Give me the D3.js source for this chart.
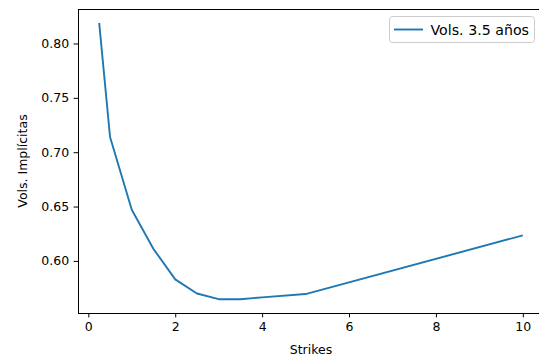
<!DOCTYPE html>
<html>
<head>
<meta charset="utf-8">
<script src="https://cdn.jsdelivr.net/npm/d3@7"></script>
<style>
  body { margin: 0; background: #fff; }
  svg { display: block; font-family: "DejaVu Sans", sans-serif; }
</style>
</head>
<body>
<script>
// strikes y vols implícitas
const strikes = [0.25, 0.5, 1, 1.5, 2, 2.5, 3, 3.5, 4, 5, 10];
const vols = [0.819, 0.714, 0.647, 0.611, 0.583, 0.570, 0.5648, 0.5648, 0.5665, 0.5695, 0.6235];
const xTicks = [0, 2, 4, 6, 8, 10];
const yTicks = [0.60, 0.65, 0.70, 0.75, 0.80];
const seriesName = 'Vols. 3.5 años';

const W = 539, H = 360;
const margin = {top: 9, right: -5, bottom: 47, left: 78};
const innerW = W - margin.left - margin.right;
const innerH = H - margin.top - margin.bottom;

const svg = d3.select('body').append('svg').attr('width', W).attr('height', H);
const g = svg.append('g').attr('transform', `translate(${margin.left},${margin.top})`);

// dominio con 5% de margen como matplotlib
const xExt = d3.extent(strikes), yExt = d3.extent(vols);
const xPad = (xExt[1] - xExt[0]) * 0.05, yPad = (yExt[1] - yExt[0]) * 0.05;
const x = d3.scaleLinear().domain([xExt[0] - xPad, xExt[1] + xPad]).range([0, innerW]);
const y = d3.scaleLinear().domain([yExt[0] - yPad, yExt[1] + yPad]).range([innerH, 0]);

const fs = 12.5;

// ejes
const xAxisG = g.append('g').attr('transform', `translate(0,${innerH})`)
  .call(d3.axisBottom(x).tickValues(xTicks).tickFormat(d3.format('d')).tickSizeOuter(0).tickSize(4.4).tickPadding(4.4));
const yAxisG = g.append('g')
  .call(d3.axisLeft(y).tickValues(yTicks).tickFormat(d3.format('.2f')).tickSizeOuter(0).tickSize(4.4).tickPadding(4.4));
[xAxisG, yAxisG].forEach(a => {
  a.select('.domain').remove();
  a.selectAll('.tick line').attr('stroke', '#000').attr('stroke-width', 1);
  a.selectAll('.tick text').attr('fill', '#000').style('font-size', fs + 'px').style('font-family', '"DejaVu Sans", sans-serif');
});

// spines
g.append('rect').attr('x', 0).attr('y', 0).attr('width', innerW).attr('height', innerH)
  .attr('fill', 'none').attr('stroke', '#000').attr('stroke-width', 1).attr('shape-rendering', 'crispEdges');

// línea
const line = d3.line().x((d, i) => x(strikes[i])).y(d => y(d));
g.append('path').datum(vols).attr('d', line)
  .attr('fill', 'none').attr('stroke', '#1f77b4').attr('stroke-width', 1.9)
  .attr('stroke-linejoin', 'round').attr('stroke-linecap', 'butt');

// títulos de ejes
svg.append('text').text('Strikes').attr('x', 311).attr('y', 354)
  .attr('text-anchor', 'middle').style('font-size', fs + 'px').attr('fill', '#000');
svg.append('text').text('Vols. Implícitas')
  .attr('transform', `translate(27,${margin.top + innerH / 2}) rotate(-90)`)
  .attr('text-anchor', 'middle').style('font-size', fs + 'px').attr('fill', '#000');

// leyenda
const leg = svg.append('g').attr('transform', 'translate(389.5,16.5)');
leg.append('rect').attr('width', 145).attr('height', 26).attr('rx', 3)
  .attr('fill', '#fff').attr('fill-opacity', 0.8).attr('stroke', '#ccc').attr('stroke-width', 1);
leg.append('line').attr('x1', 4.5).attr('x2', 33.5).attr('y1', 13).attr('y2', 13)
  .attr('stroke', '#1f77b4').attr('stroke-width', 1.9);
leg.append('text').text(seriesName).attr('x', 41).attr('y', 18)
  .style('font-size', '14.2px').attr('fill', '#000');
</script>
</body>
</html>
